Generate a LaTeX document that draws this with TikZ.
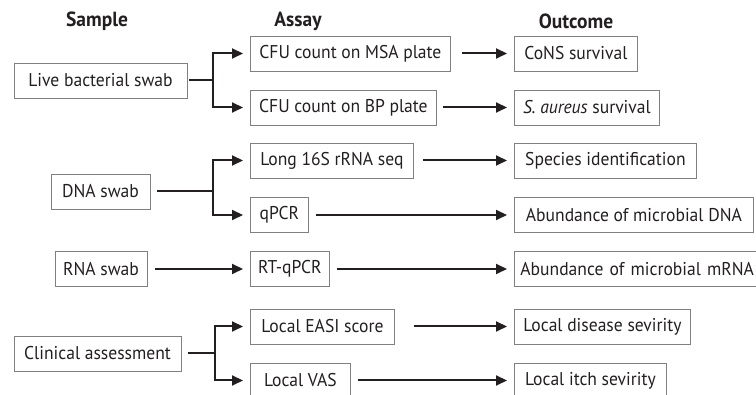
\documentclass[tikz,border=0pt]{standalone}
\usepackage{fontspec}
\setmainfont{PT Sans}[FakeStretch=0.95]
\usetikzlibrary{arrows.meta, positioning}

\definecolor{boxgray}{RGB}{128,128,128}
\definecolor{ink}{RGB}{35,31,32}

\tikzset{
  box/.style={draw=boxgray, line width=0.8pt, minimum height=35pt,
    inner xsep=6pt, font=\fontsize{18.5}{21}\selectfont, text=ink},
  hdr/.style={font=\bfseries\fontsize{20.5}{23}\selectfont, text=ink},
  link/.style={draw=ink, line width=2pt},
  arr/.style={link, -{Triangle[length=11pt,width=10pt]}, shorten >=7pt},
}

\begin{document}
\begin{tikzpicture}[x=1pt, y=-1pt]
  \useasboundingbox (0,0) rectangle (756,395);
  \clip (0,0) rectangle (756,395);

  \node[hdr] (hsample) at (97,21) {Sample};
  \node[hdr] (hassay) at (298,21) {Assay};
  \node[hdr] (houtcome) at (576,21) {Outcome};

  % samples
  \node[box, minimum width=173pt] (live) at (100.5,80.5) {Live bacterial swab};
  \node[box, minimum width=99pt] (dna) at (100.5,191.5) {DNA swab};
  \node[box, minimum width=92pt] (rna) at (101,269) {RNA swab};
  \node[box, minimum width=167pt] (clin) at (97.5,353.5) {Clinical assessment};

  % assays
  \node[box, anchor=west, minimum width=200pt] (msa) at (250,53.5) {CFU count on MSA plate};
  \node[box, anchor=west, minimum width=186pt] (bp) at (250,107.5) {CFU count on BP plate};
  \node[box, anchor=west, minimum width=163pt] (seq) at (250,160.5) {Long 16S rRNA seq};
  \node[box, anchor=west, minimum width=58pt] (qpcr) at (250,215) {qPCR};
  \node[box, anchor=west, minimum width=79pt] (rtq) at (250,269) {RT-qPCR};
  \node[box, anchor=west, minimum width=144pt] (easi) at (250,326.5) {Local EASI score};
  \node[box, anchor=west, minimum width=100pt] (vas) at (250,380.5) {Local VAS};

  % outcomes
  \node[box, anchor=west, minimum width=123pt] (cons) at (514,53.5) {CoNS survival};
  \node[box, anchor=west, minimum width=145pt] (saur) at (514,107.5) {\textit{S. aureus} survival};
  \node[box, anchor=west, minimum width=182pt] (spec) at (514,160.5) {Species identification};
  \node[box, anchor=west, minimum width=239pt] (adna) at (514,215) {Abundance of microbial DNA};
  \node[box, anchor=west, minimum width=258pt, text width=246pt, inner xsep=5pt] (arna) at (514,269) {Abundance of microbial mRNA};
  \node[box, anchor=west, minimum width=176pt] (dis) at (514,326.5) {Local disease sevirity};
  \node[box, anchor=west, minimum width=152pt] (itch) at (514,380.5) {Local itch sevirity};

  % branches
  \coordinate (b1) at (213,80.5);
  \coordinate (b2) at (213,191.5);
  \coordinate (b3) at (215,353.5);
  \draw[link] ([xshift=2pt]live.east) -- (b1);
  \draw[arr] (b1) |- (msa.west);
  \draw[arr] (b1) |- (bp.west);
  \draw[link] ([xshift=7pt]dna.east) -- (b2);
  \draw[arr] (b2) |- (seq.west);
  \draw[arr] (b2) |- (qpcr.west);
  \draw[arr, shorten <=8pt] (rna.east) -- (rtq.west);
  \draw[link] ([xshift=7pt]clin.east) -- (b3);
  \draw[arr] (b3) |- (easi.west);
  \draw[arr] (b3) |- (vas.west);

  % assay to outcome
  \draw[arr, shorten <=11pt] (msa.east) -- (cons.west);
  \draw[arr, shorten <=6pt] (bp.east) -- (saur.west);
  \draw[arr, shorten <=9pt] (seq.east) -- (spec.west);
  \draw[arr, shorten <=7pt] (qpcr.east) -- (adna.west);
  \draw[arr, shorten <=7pt] (rtq.east) -- (arna.west);
  \draw[arr, shorten <=19pt] (easi.east) -- (dis.west);
  \draw[arr, shorten <=7pt] (vas.east) -- (itch.west);
\end{tikzpicture}
\end{document}
